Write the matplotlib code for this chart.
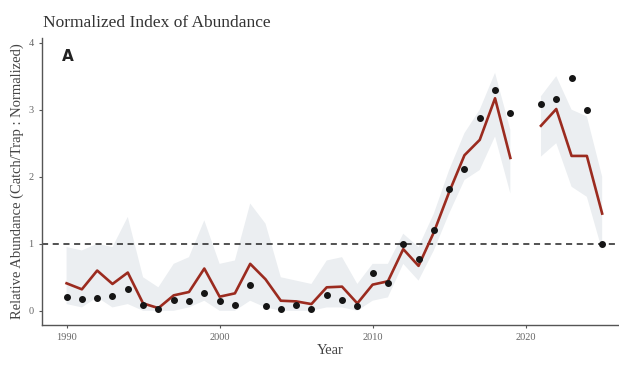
import numpy as np
import matplotlib
matplotlib.use("Agg")
import matplotlib.pyplot as plt

years = np.arange(1990, 2026)

# observed index (dots), 2020 not sampled
observed = [0.21, 0.18, 0.19, 0.22, 0.33, 0.09, 0.02, 0.16, 0.15, 0.27,
            0.15, 0.09, 0.38, 0.07, 0.03, 0.08, 0.03, 0.24, 0.16, 0.07,
            0.56, 0.42, 0.99, 0.77, 1.20, 1.82, 2.12, 2.88, 3.30, 2.95,
            np.nan, 3.08, 3.16, 3.48, 3.00, 1.00]

# model fit (red line)
fitted = [0.41, 0.32, 0.60, 0.40, 0.57, 0.11, 0.04, 0.23, 0.28, 0.63,
          0.21, 0.26, 0.70, 0.47, 0.15, 0.14, 0.10, 0.35, 0.36, 0.11,
          0.39, 0.44, 0.92, 0.67, 1.17, 1.77, 2.32, 2.55, 3.17, 2.28,
          np.nan, 2.76, 3.01, 2.31, 2.31, 1.45]

# confidence band
upper = [0.95, 0.90, 1.00, 0.95, 1.40, 0.50, 0.35, 0.70, 0.80, 1.35,
         0.70, 0.75, 1.60, 1.30, 0.50, 0.45, 0.40, 0.75, 0.80, 0.40,
         0.70, 0.70, 1.15, 0.95, 1.45, 2.10, 2.65, 3.00, 3.55, 2.70,
         np.nan, 3.20, 3.50, 3.00, 2.90, 2.00]
lower = [0.10, 0.05, 0.20, 0.05, 0.10, 0.00, 0.00, 0.00, 0.05, 0.15,
         0.00, 0.00, 0.15, 0.05, 0.00, 0.00, 0.00, 0.05, 0.05, 0.00,
         0.15, 0.20, 0.70, 0.45, 0.90, 1.45, 1.95, 2.10, 2.60, 1.75,
         np.nan, 2.30, 2.50, 1.85, 1.70, 0.90]

serif = "Liberation Serif"

fig = plt.figure(figsize=(6.19, 3.65), dpi=100)
ax = fig.add_axes([0.068, 0.110, 0.932, 0.786])

ax.fill_between(years, lower, upper, color="#ebeef1", linewidth=0, zorder=1)
ax.axhline(1, color="#222222", linestyle=(0, (4, 3)), linewidth=1.1, zorder=2)
ax.plot(years, fitted, color="#9b2b1f", linewidth=1.9, zorder=3)
ax.plot(years, observed, "o", color="#151515", markersize=4, zorder=4)

ax.set_xlim(1988.4, 2026.1)
ax.set_ylim(-0.21, 4.07)
ax.set_xticks([1990, 2000, 2010, 2020])
ax.set_yticks([0, 1, 2, 3, 4])
for side in ["top", "right"]:
    ax.spines[side].set_visible(False)
for side in ["left", "bottom"]:
    ax.spines[side].set_color("#555555")
    ax.spines[side].set_linewidth(1.0)
ax.tick_params(length=2.5, width=0.8, colors="#555555", labelsize=7.5,
               labelcolor="#666666")
for lab in ax.get_xticklabels() + ax.get_yticklabels():
    lab.set_family(serif)

ax.set_xlabel("Year", family=serif, fontsize=10.5, color="#444444", labelpad=1)
ax.set_ylabel("Relative Abundance (Catch/Trap : Normalized)", family=serif,
              fontsize=10.5, color="#444444", labelpad=3)

fig.text(0.070, 0.925, "Normalized Index of Abundance", family=serif,
         fontsize=12.5, color="#333333")
ax.text(0.035, 0.96, "A", transform=ax.transAxes, fontsize=11,
        fontweight="bold", color="#222222", va="top")

fig.savefig("out.png", dpi=100)
